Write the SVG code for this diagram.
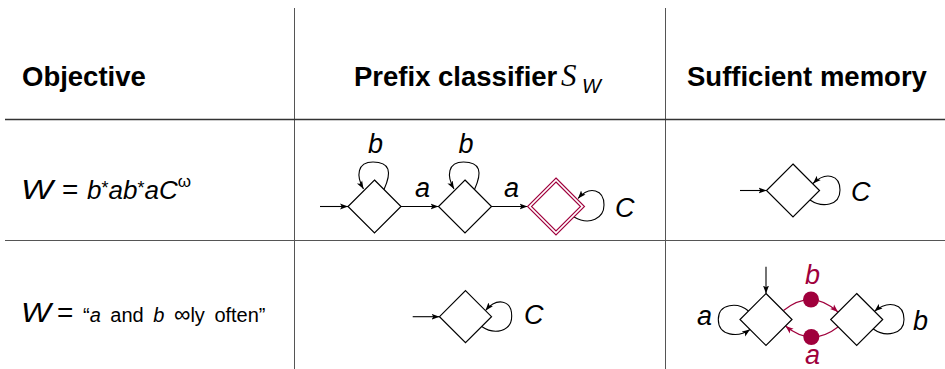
<svg xmlns="http://www.w3.org/2000/svg" width="945" height="369" viewBox="0 0 945 369">
<defs>
<style>
.n{fill:#fff;stroke:#000;stroke-width:1.2}
.dn{fill:none;stroke:#a0003c;stroke-width:1.1}
.e{fill:none;stroke:#000;stroke-width:1.1;marker-end:url(#ah)}
.re{fill:none;stroke:#a0003c;stroke-width:1.1;marker-end:url(#rah)}
.dot{fill:#a0003c}
.t{font-family:"Liberation Sans",Arial,sans-serif;fill:#000}
.hd{font-weight:bold;font-size:27.5px}
.it{font-style:italic}
.lb{font-style:italic;font-size:27px}
.red{fill:#a0003c}
.grid{stroke:#555;stroke-width:1;fill:none}
</style>
<marker id="ah" markerWidth="9" markerHeight="8" refX="8" refY="4" orient="auto" markerUnits="userSpaceOnUse"><path d="M0,1 L8,4 L0,7 L1.8,4 z" fill="#000"/></marker>
<marker id="rah" markerWidth="9" markerHeight="8" refX="8" refY="4" orient="auto" markerUnits="userSpaceOnUse"><path d="M0,1 L8,4 L0,7 L1.8,4 z" fill="#a0003c"/></marker>
</defs>
<rect width="945" height="369" fill="#fff"/>
<g id="table">
<line class="grid" x1="294.5" y1="8" x2="294.5" y2="369"/>
<line class="grid" x1="665.5" y1="8" x2="665.5" y2="369"/>
<line x1="5" y1="119.5" x2="945" y2="119.5" stroke="#333" stroke-width="1.6"/>
<line class="grid" x1="5" y1="240.5" x2="945" y2="240.5" stroke="#222"/>
</g>
<g id="headers">
<text class="t hd" x="22" y="86">Objective</text>
<text class="t hd" x="354" y="86">Prefix classifier</text>
<text x="561" y="86" font-family="'Liberation Serif',serif" font-style="italic" font-size="31">S</text>
<text class="t it" x="582" y="93" font-size="20">W</text>
<text class="t hd" x="687" y="86">Sufficient memory</text>
</g>
<g id="objectives">
<text class="t it" x="21" y="198.5" font-size="28" textLength="32" lengthAdjust="spacingAndGlyphs">W</text>
<text class="t" x="62" y="198.5" font-size="28">=</text>
<text class="t" x="87" y="198.5" font-size="26"><tspan class="it">b</tspan><tspan font-size="18" dy="-5">*</tspan><tspan class="it" dy="5">ab</tspan><tspan font-size="18" dy="-5">*</tspan><tspan class="it" dy="5">aC</tspan><tspan font-size="17" dy="-12">ω</tspan></text>
<text class="t it" x="21" y="322" font-size="28" textLength="30" lengthAdjust="spacingAndGlyphs">W</text>
<text class="t" x="57" y="322" font-size="28">=</text>
<text class="t" x="83" y="322" font-size="20" word-spacing="4">“<tspan class="it">a</tspan> and <tspan class="it">b</tspan> <tspan font-size="23">∞</tspan>ly often”</text>
</g>
<g id="connectors">
<line class="e" x1="320" y1="206.5" x2="348" y2="206.5"/>
<line class="e" x1="401" y1="206.5" x2="438.5" y2="206.5"/>
<line class="e" x1="491.5" y1="206.5" x2="527.5" y2="206.5"/>
<path class="e" d="M384,189.5 C392,172 390,162 373,162 C357,162 356,176 363.5,189"/>
<path class="e" d="M474.5,189.5 C482.5,172 480.5,162 463.5,162 C447.5,162 446.5,176 454,189"/>
<path class="e" d="M574,217 C590,226 604,218 604,205 C604,190 590,185 578,198.5"/>
<line class="e" x1="740" y1="190.5" x2="766.5" y2="190.5"/>
<path class="e" d="M810,200 C822,208 840,206 840,190 C840,175 826,171 813,183.5"/>
<line class="e" x1="412.7" y1="316.7" x2="439.5" y2="316.7"/>
<path class="e" d="M481.7,326.5 C494,335 511.7,332 511.7,316 C511.7,300 497,297 485.5,310.5"/>
<line class="e" x1="766" y1="266.7" x2="766" y2="293.5"/>
<path class="e" d="M748.5,311 C738,302 718.3,303 718.3,319.5 C718.3,336 738,338 750,329.5"/>
<path class="e" d="M873.3,329 C886,338 904,334 904,319.5 C904,303 888,300 874.5,311.3"/>
<path class="re" d="M783.5,310.5 Q811.3,288 838,312"/>
<path class="re" d="M838,327 Q811.5,347.5 785.5,326"/>
<circle class="dot" cx="811" cy="299.5" r="8"/>
<circle class="dot" cx="811.3" cy="337" r="8"/>
<text class="t lb" x="415" y="197">a</text>
<text class="t lb" x="504" y="197">a</text>
<text class="t lb" x="368" y="153">b</text>
<text class="t lb" x="458.5" y="153">b</text>
<text class="t lb" x="615" y="217">C</text>
<text class="t lb" x="851" y="200.5">C</text>
<text class="t lb" x="524" y="324">C</text>
<text class="t lb" x="697" y="325">a</text>
<text class="t lb" x="913" y="330">b</text>
<text class="t lb red" x="805" y="284">b</text>
<text class="t lb red" x="805" y="364">a</text>
</g>
<g id="q1"><polygon class="n" points="374.5,180 401,206.5 374.5,233 348,206.5"/></g>
<g id="q2"><polygon class="n" points="465,180 491.5,206.5 465,233 438.5,206.5"/></g>
<g id="q3"><polygon class="dn" points="556,178 584.5,206.5 556,235 527.5,206.5"/><polygon class="dn" points="556,182 580.5,206.5 556,231 531.5,206.5"/></g>
<g id="m1"><polygon class="n" points="793,164 819.5,190.5 793,217 766.5,190.5"/></g>
<g id="p2"><polygon class="n" points="465.5,290.7 491.5,316.7 465.5,342.7 439.5,316.7"/></g>
<g id="m2a"><polygon class="n" points="766,293.5 792,319.5 766,345.5 740,319.5"/></g>
<g id="m2b"><polygon class="n" points="856.7,293.5 882.7,319.5 856.7,345.5 830.7,319.5"/></g>
</svg>
